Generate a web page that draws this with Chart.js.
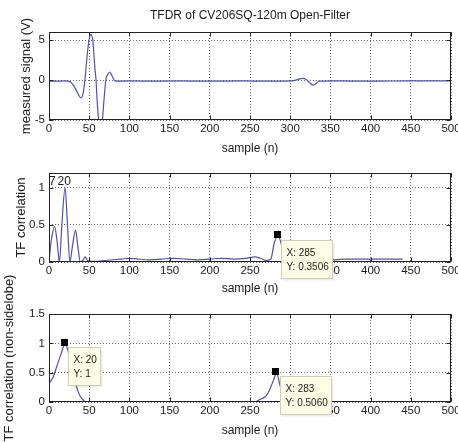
<!DOCTYPE html>
<html><head><meta charset="utf-8">
<script src="https://cdn.jsdelivr.net/npm/chart.js@4.4.1/dist/chart.umd.min.js"></script>
<style>
html,body{margin:0;padding:0;background:#fff;width:458px;height:442px;overflow:hidden;position:relative}
canvas{position:absolute;left:0}
</style></head><body>
<canvas id="c1" width="458" height="160" style="top:0px"></canvas>
<canvas id="c2" width="458" height="136" style="top:160px"></canvas>
<canvas id="c3" width="458" height="172" style="top:270px"></canvas>
<script>
// ---------- text ----------
const chartTitle = 'TFDR of CV206SQ-120m Open-Filter';
const xLabel = 'sample (n)';
const yLabel1 = 'measured signal (V)';
const yLabel2 = 'TF correlation';
const yLabel3 = 'TF correlation (non-sidelobe)';

// ---------- ticks ----------
const xTicks = [0, 50, 100, 150, 200, 250, 300, 350, 400, 450, 500];
const yTicks1 = [-5, 0, 5];
const yTicks2 = [0, 0.5, 1];
const yTicks3 = [0, 0.5, 1, 1.5];

// ---------- panel 1: measured signal ----------
const sigX = [0, 10, 20, 26, 30, 34, 37, 40, 42.5, 44.7, 47, 49.5, 52, 54.5, 57, 58.5, 60, 62, 64, 66, 68, 70.7, 73, 75.7, 78, 82, 88, 100, 130, 160, 200, 240, 280, 303, 309, 315.5, 320, 324, 328.5, 332, 336, 360, 400, 450, 500];
const sigY = [-0.15, -0.15, -0.12, -0.2, -0.6, -1.3, -1.9, -2.25, -1.6, 0, 2.6, 4.8, 5.7, 4.9, 1.6, 0, -2.8, -5.2, -6.3, -5.4, -3, 0, 0.7, 1.0, 0.6, -0.1, -0.15, -0.12, -0.15, -0.12, -0.15, -0.12, -0.15, -0.12, 0.05, 0.2, 0.05, -0.3, -0.65, -0.45, -0.15, -0.12, -0.15, -0.1, -0.12];

// ---------- panel 2: TF correlation ----------
const tfX = [0, 3, 7, 10, 13, 16, 20, 23, 26, 29, 33, 36, 39, 42, 45, 48, 52, 60, 70, 80, 90, 100, 110, 125, 140, 155, 170, 185, 200, 215, 230, 245, 256, 263, 270, 276, 280, 285, 290, 294, 300, 315, 330, 340, 348, 355, 370, 400, 440];
const tfY = [0.02, 0.3, 0.48, 0.28, 0.0, 0.5, 1.0, 0.5, 0.0, 0.2, 0.43, 0.2, 0.0, 0.02, 0.07, 0.02, 0.01, 0.01, 0.02, 0.03, 0.04, 0.05, 0.04, 0.03, 0.04, 0.05, 0.04, 0.03, 0.04, 0.05, 0.04, 0.05, 0.07, 0.05, 0.02, 0.04, 0.25, 0.3506, 0.2, 0.03, 0.02, 0.04, 0.03, 0.04, 0.05, 0.03, 0.04, 0.04, 0.04];
const tfNoteText = ['7', '20'];
const tfNoteX = [4, 19];
const tfNoteY = [1.08, 1.08];
const tip2X = [285];
const tip2Y = [0.3506];

// ---------- panel 3: TF correlation (non-sidelobe) ----------
const nsX = [0, 5, 10, 15, 20, 25, 30, 34, 38, 42, 47, 50, 150, 256, 262, 268, 272, 276, 280, 283, 287, 291, 296, 300, 380, 440];
const nsY = [0.32, 0.42, 0.62, 0.82, 1.0, 0.8, 0.5, 0.27, 0.12, 0.04, 0, 0, 0, 0, 0.04, 0.08, 0.14, 0.26, 0.4, 0.506, 0.3, 0.12, 0.02, 0, 0, 0];
const tip3X = [20, 283];
const tip3Y = [1, 0.506];

// ---------- style ----------
const NARROW = "'Liberation Sans Narrow', 'Arial Narrow', 'Liberation Sans', Arial, sans-serif";
const WIDE = "'Liberation Sans', Arial, sans-serif";
const TXT = '#1a1a1a';
const LINE = '#4f52aa';
Chart.defaults.font.family = NARROW;
Chart.defaults.font.size = 11.5;
Chart.defaults.color = TXT;

const extras = {
  c1: { yTicks: yTicks1, yLabel: yLabel1, yLabelX: 26, notes: [], tips: [] },
  c2: { yTicks: yTicks2, yLabel: yLabel2, yLabelX: 21,
        notes: tfNoteText.map((t, i) => ({ t, x: tfNoteX[i], y: tfNoteY[i] })),
        tips: tip2X.map((x, i) => ({ x, y: tip2Y[i] })) },
  c3: { yTicks: yTicks3, yLabel: yLabel3, yLabelX: 9, notes: [],
        tips: tip3X.map((x, i) => ({ x, y: tip3Y[i] })) }
};

function fmtY(v) { return Number.isInteger(v) ? String(v) : v.toFixed(4); }

const matlabPlugin = {
  id: 'matlabFrame',
  afterDraw(chart) {
    const ex = extras[chart.canvas.id];
    const { ctx, chartArea: a } = chart;
    const xs = chart.scales.x, ys = chart.scales.y;
    ctx.save();
    // frame
    ctx.strokeStyle = '#222'; ctx.lineWidth = 1; ctx.setLineDash([]);
    const L = Math.round(a.left) + 0.5, T = Math.round(a.top) + 0.5;
    const R = Math.round(a.right) - 0.5, B = Math.round(a.bottom) - 0.5;
    ctx.strokeRect(L, T, R - L, B - T);
    // inward ticks
    ctx.beginPath();
    for (const v of xTicks) {
      const px = Math.round(xs.getPixelForValue(v)) + 0.5;
      ctx.moveTo(px, T); ctx.lineTo(px, T + 4);
      ctx.moveTo(px, B); ctx.lineTo(px, B - 4);
    }
    for (const v of ex.yTicks) {
      const py = Math.round(ys.getPixelForValue(v)) + 0.5;
      ctx.moveTo(L, py); ctx.lineTo(L + 4, py);
      ctx.moveTo(R, py); ctx.lineTo(R - 4, py);
    }
    ctx.stroke();
    // y-axis label (rotated)
    ctx.fillStyle = TXT;
    ctx.font = "13px " + WIDE;
    ctx.textAlign = 'center'; ctx.textBaseline = 'middle';
    ctx.save();
    ctx.translate(ex.yLabelX, (a.top + a.bottom) / 2);
    ctx.rotate(-Math.PI / 2);
    ctx.fillText(ex.yLabel, 0, 0);
    ctx.restore();
    // notes
    ctx.font = "12px " + NARROW;
    for (const n of ex.notes) ctx.fillText(n.t, xs.getPixelForValue(n.x), ys.getPixelForValue(n.y));
    // datatips
    ctx.font = "10px " + NARROW;
    ctx.textAlign = 'left';
    for (const t of ex.tips) {
      const px = xs.getPixelForValue(t.x), py = ys.getPixelForValue(t.y);
      const l1 = 'X: ' + t.x, l2 = 'Y: ' + fmtY(t.y);
      const w = Math.round(Math.max(ctx.measureText(l1).width, ctx.measureText(l2).width) + 9);
      const bx = Math.round(px + 3) + 0.5, by = Math.round(py + 4) + 0.5, bh = 38;
      ctx.fillStyle = 'rgba(0,0,0,0.07)';
      ctx.fillRect(bx + 2, by + 2, w, bh);
      ctx.fillStyle = '#fdfde6';
      ctx.fillRect(bx, by, w, bh);
      ctx.strokeStyle = '#cfcfb8';
      ctx.strokeRect(bx, by, w, bh);
      ctx.fillStyle = TXT;
      ctx.fillText(l1, bx + 5, by + 12.5);
      ctx.fillText(l2, bx + 5, by + 26.5);
      // marker
      ctx.fillStyle = '#000';
      ctx.fillRect(Math.round(px - 4.5), Math.round(py - 4.5), 7, 7);
    }
    ctx.restore();
  }
};

function makeChart(id, xsArr, ysArr, o) {
  return new Chart(document.getElementById(id), {
    type: 'line',
    data: { datasets: [{
      data: xsArr.map((x, i) => ({ x, y: ysArr[i] })),
      borderColor: LINE, borderWidth: 1.2, pointRadius: 0,
      cubicInterpolationMode: 'monotone', fill: false
    }] },
    options: {
      responsive: false, animation: false, devicePixelRatio: 1,
      layout: { padding: { top: o.padTop, right: 7, left: 0, bottom: 0 } },
      plugins: {
        legend: { display: false }, tooltip: { enabled: false },
        title: o.title ? { display: true, text: o.title, fullSize: false, color: TXT,
          font: { size: 12, weight: 'normal', family: NARROW, lineHeight: 1 }, padding: { top: 10, bottom: 10 } } : { display: false }
      },
      scales: {
        x: {
          type: 'linear', min: 0, max: 500,
          afterBuildTicks: s => { s.ticks = xTicks.map(v => ({ value: v })); },
          afterFit: s => { s.height = o.xH; s.paddingLeft = 0; s.paddingRight = 0; },
          ticks: { padding: 2, maxRotation: 0, autoSkip: false, color: TXT, callback: v => String(v) },
          grid: { color: '#666', lineWidth: 1, drawTicks: false },
          border: { display: false, dash: [1, 2] },
          title: { display: true, text: xLabel, color: TXT, font: { size: 12, family: NARROW }, padding: { top: 0, bottom: o.xTitlePad } }
        },
        y: {
          type: 'linear', min: o.yMin, max: o.yMax,
          afterBuildTicks: s => { s.ticks = o.yTicks.map(v => ({ value: v })); },
          afterFit: s => { s.width = 49; s.paddingTop = 0; s.paddingBottom = 0; },
          ticks: { padding: 4, color: TXT, callback: v => String(v) },
          grid: { color: '#666', lineWidth: 1, drawTicks: false },
          border: { display: false, dash: [1, 2] },
          title: { display: false }
        }
      }
    },
    plugins: [matlabPlugin]
  });
}

makeChart('c1', sigX, sigY, { title: chartTitle, padTop: 0, xH: 40, xTitlePad: 4, yMin: -5, yMax: 6, yTicks: yTicks1 });
makeChart('c2', tfX, tfY, { padTop: 13, xH: 34, xTitlePad: 0, yMin: 0, yMax: 1.2, yTicks: yTicks2 });
makeChart('c3', nsX, nsY, { padTop: 44, xH: 40, xTitlePad: 4, yMin: 0, yMax: 1.5, yTicks: yTicks3 });
</script>
</body></html>
